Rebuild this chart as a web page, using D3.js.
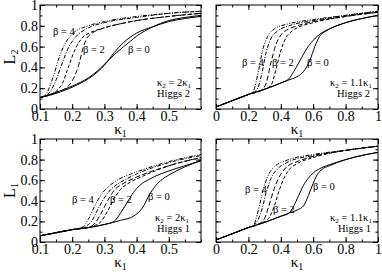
<!DOCTYPE html>
<html>
<head>
<meta charset="utf-8">
<script src="https://cdn.jsdelivr.net/npm/d3@7"></script>
<style>
  body { margin: 0; background: #fff; }
  svg { display: block; }
</style>
</head>
<body>
<div id="chart"></div>
<script>
// global constants
const W = 382, H = 274;
const SERIF = '"Liberation Serif", "Times New Roman", Times, "DejaVu Serif", serif';
const FONT_TICK = 14;
const FONT_NOTE = 10.5;

// x domains per column
const X_LEFT = [0.1, 0.6];
const X_RIGHT = [0, 1];
const X_TICKS_LEFT = [0.1, 0.2, 0.3, 0.4, 0.5];
const X_TICKS_RIGHT = [0, 0.2, 0.4, 0.6, 0.8, 1];
const Y_TICKS = [0, 0.2, 0.4, 0.6, 0.8, 1];

// curves: [kappa_1, L]
// top-left: Higgs 2, kappa_2 = 2 kappa_1
const tlB0a = [[0.1,0.11],[0.15,0.15],[0.2,0.21],[0.25,0.29],[0.28,0.36],[0.3,0.42],[0.33,0.54],[0.36,0.64],[0.38,0.69],[0.4,0.73],[0.45,0.79],[0.5,0.84],[0.55,0.87],[0.6,0.89]];
const tlB0b = [[0.1,0.11],[0.15,0.16],[0.2,0.22],[0.25,0.3],[0.28,0.37],[0.3,0.43],[0.33,0.52],[0.36,0.6],[0.38,0.65],[0.4,0.7],[0.45,0.79],[0.5,0.85],[0.55,0.88],[0.6,0.9]];
const tlB2a = [[0.1,0.11],[0.15,0.16],[0.18,0.2],[0.2,0.27],[0.22,0.42],[0.235,0.6],[0.25,0.7],[0.3,0.78],[0.35,0.82],[0.4,0.85],[0.5,0.89],[0.6,0.92]];
const tlB2b = [[0.1,0.11],[0.15,0.17],[0.17,0.25],[0.19,0.42],[0.21,0.58],[0.23,0.68],[0.26,0.74],[0.3,0.78],[0.4,0.85],[0.5,0.89],[0.6,0.92]];
const tlB4a = [[0.1,0.11],[0.12,0.15],[0.14,0.3],[0.16,0.5],[0.18,0.64],[0.2,0.72],[0.25,0.8],[0.3,0.84],[0.4,0.89],[0.5,0.92],[0.6,0.94]];
const tlB4b = [[0.1,0.11],[0.13,0.16],[0.15,0.28],[0.17,0.45],[0.19,0.6],[0.21,0.69],[0.25,0.78],[0.3,0.83],[0.4,0.88],[0.5,0.92],[0.6,0.94]];

// top-right: Higgs 2, kappa_2 = 1.1 kappa_1
const trB0a = [[0,0.02],[0.1,0.08],[0.2,0.14],[0.3,0.19],[0.4,0.25],[0.45,0.29],[0.48,0.36],[0.52,0.47],[0.56,0.58],[0.6,0.66],[0.65,0.73],[0.7,0.77],[0.8,0.83],[0.9,0.87],[1,0.9]];
const trB0b = [[0,0.02],[0.1,0.08],[0.2,0.14],[0.3,0.19],[0.4,0.25],[0.45,0.28],[0.5,0.31],[0.54,0.36],[0.58,0.47],[0.61,0.6],[0.64,0.7],[0.68,0.75],[0.8,0.83],[0.9,0.87],[1,0.9]];
const trB2a = [[0,0.02],[0.1,0.08],[0.2,0.14],[0.28,0.18],[0.31,0.25],[0.34,0.45],[0.37,0.62],[0.4,0.71],[0.45,0.77],[0.5,0.8],[0.6,0.84],[0.8,0.89],[1,0.93]];
const trB2b = [[0,0.02],[0.1,0.08],[0.2,0.14],[0.3,0.19],[0.34,0.23],[0.37,0.38],[0.4,0.56],[0.43,0.68],[0.47,0.75],[0.5,0.78],[0.6,0.83],[0.8,0.89],[1,0.93]];
const trB4a = [[0,0.02],[0.1,0.08],[0.2,0.14],[0.23,0.17],[0.26,0.35],[0.29,0.58],[0.32,0.7],[0.36,0.77],[0.45,0.82],[0.6,0.86],[0.8,0.9],[1,0.94]];
const trB4b = [[0,0.02],[0.1,0.08],[0.2,0.14],[0.25,0.18],[0.28,0.32],[0.31,0.55],[0.34,0.68],[0.38,0.75],[0.45,0.8],[0.6,0.85],[0.8,0.9],[1,0.94]];

// bottom-left: Higgs 1, kappa_2 = 2 kappa_1
const blB0a = [[0.1,0.06],[0.15,0.09],[0.2,0.12],[0.25,0.14],[0.3,0.17],[0.33,0.2],[0.35,0.28],[0.37,0.38],[0.39,0.48],[0.41,0.55],[0.44,0.61],[0.5,0.69],[0.55,0.74],[0.6,0.79]];
const blB0b = [[0.1,0.06],[0.15,0.09],[0.2,0.12],[0.25,0.14],[0.3,0.17],[0.35,0.21],[0.39,0.25],[0.42,0.34],[0.44,0.46],[0.46,0.55],[0.48,0.61],[0.5,0.65],[0.55,0.73],[0.6,0.79]];
const blB2a = [[0.1,0.06],[0.2,0.12],[0.25,0.14],[0.27,0.18],[0.29,0.28],[0.31,0.4],[0.33,0.5],[0.36,0.57],[0.4,0.63],[0.5,0.74],[0.6,0.82]];
const blB2b = [[0.1,0.06],[0.2,0.12],[0.26,0.15],[0.29,0.2],[0.31,0.3],[0.33,0.42],[0.35,0.51],[0.38,0.58],[0.42,0.64],[0.5,0.74],[0.6,0.82]];
const blB4a = [[0.1,0.06],[0.2,0.12],[0.23,0.14],[0.25,0.22],[0.27,0.35],[0.29,0.46],[0.31,0.53],[0.34,0.6],[0.4,0.68],[0.5,0.78],[0.6,0.85]];
const blB4b = [[0.1,0.06],[0.2,0.12],[0.24,0.15],[0.26,0.2],[0.28,0.32],[0.3,0.43],[0.32,0.51],[0.35,0.58],[0.4,0.66],[0.5,0.77],[0.6,0.84]];

// bottom-right: Higgs 1, kappa_2 = 1.1 kappa_1
const brB0a = [[0,0.02],[0.1,0.08],[0.2,0.14],[0.3,0.19],[0.4,0.25],[0.45,0.28],[0.48,0.35],[0.51,0.45],[0.54,0.55],[0.57,0.62],[0.6,0.67],[0.65,0.72],[0.7,0.75],[0.8,0.8],[0.9,0.84],[1,0.87]];
const brB0b = [[0,0.02],[0.1,0.08],[0.2,0.14],[0.3,0.19],[0.4,0.25],[0.45,0.28],[0.5,0.31],[0.54,0.35],[0.57,0.45],[0.6,0.57],[0.62,0.64],[0.65,0.7],[0.7,0.74],[0.8,0.8],[0.9,0.84],[1,0.87]];
const brB2a = [[0,0.02],[0.1,0.08],[0.2,0.14],[0.26,0.17],[0.3,0.23],[0.33,0.37],[0.36,0.52],[0.39,0.63],[0.43,0.72],[0.5,0.78],[0.6,0.83],[0.8,0.89],[1,0.93]];
const brB2b = [[0,0.02],[0.1,0.08],[0.2,0.14],[0.27,0.18],[0.32,0.22],[0.36,0.35],[0.39,0.5],[0.42,0.62],[0.45,0.7],[0.5,0.76],[0.6,0.82],[0.8,0.89],[1,0.93]];
const brB4a = [[0,0.02],[0.1,0.08],[0.2,0.14],[0.23,0.16],[0.26,0.3],[0.29,0.5],[0.32,0.64],[0.36,0.73],[0.45,0.8],[0.6,0.85],[0.8,0.89],[1,0.93]];
const brB4b = [[0,0.02],[0.1,0.08],[0.2,0.14],[0.24,0.17],[0.28,0.3],[0.31,0.48],[0.34,0.62],[0.38,0.71],[0.45,0.78],[0.6,0.84],[0.8,0.89],[1,0.93]];

// line styles (beta = 0 solid, beta = 2 dashed, beta = 4 dash-dot)
const DASH = {
  b0a: null, b0b: null,
  b2a: "5,2.5", b2b: "3.5,2",
  b4a: "4,1.5,1,1.5,1,1.5", b4b: "4,1.5,1,1.5",
};

const panels = [
  { x0: 40, x1: 201, y0: 5, y1: 109, dom: X_LEFT, xt: X_TICKS_LEFT, xMinor: 0.05, yLabels: true, yTitle: "2",
    curves: { b0a: tlB0a, b0b: tlB0b, b2a: tlB2a, b2b: tlB2b, b4a: tlB4a, b4b: tlB4b },
    notes: [[53, 35, "β = 4"], [83, 53, "β = 2"], [128, 53, "β = 0"]],
    k2: [157, 86, "2"], higgs: [157, 97, "Higgs 2"] },
  { x0: 216, x1: 378, y0: 5, y1: 109, dom: X_RIGHT, xt: X_TICKS_RIGHT, xMinor: 0.1, yLabels: false,
    curves: { b0a: trB0a, b0b: trB0b, b2a: trB2a, b2b: trB2b, b4a: trB4a, b4b: trB4b },
    notes: [[242, 66, "β = 4"], [272, 66, "β = 2"], [307, 66, "β = 0"]],
    k2: [330, 86, "1.1"], higgs: [337, 97, "Higgs 2"] },
  { x0: 40, x1: 201, y0: 139, y1: 242, dom: X_LEFT, xt: X_TICKS_LEFT, xMinor: 0.05, yLabels: true, yTitle: "1",
    curves: { b0a: blB0a, b0b: blB0b, b2a: blB2a, b2b: blB2b, b4a: blB4a, b4b: blB4b },
    notes: [[72, 203, "β = 4"], [110, 203, "β = 2"], [148, 200, "β = 0"]],
    k2: [155, 221, "2"], higgs: [157, 232, "Higgs 1"] },
  { x0: 216, x1: 378, y0: 139, y1: 242, dom: X_RIGHT, xt: X_TICKS_RIGHT, xMinor: 0.1, yLabels: false,
    curves: { b0a: brB0a, b0b: brB0b, b2a: brB2a, b2b: brB2b, b4a: brB4a, b4b: brB4b },
    notes: [[245, 193, "β = 4"], [273, 213, "β = 2"], [313, 190, "β = 0"]],
    k2: [330, 221, "1.1"], higgs: [338, 232, "Higgs 1"] },
];

const svg = d3.select("#chart").append("svg")
  .attr("width", W).attr("height", H)
  .style("font-family", SERIF);

function minorTicks(dom, step) {
  return d3.range(dom[0], dom[1] + 1e-9, step).map((v) => +v.toFixed(3));
}

panels.forEach((p) => {
  const x = d3.scaleLinear().domain(p.dom).range([p.x0, p.x1]);
  const y = d3.scaleLinear().domain([0, 1]).range([p.y1, p.y0]);
  const g = svg.append("g");
  const fmt = (d) => String(d);

  // minor ticks
  const xm = minorTicks(p.dom, p.xMinor);
  const ym = minorTicks([0, 1], 0.1);
  g.append("g").attr("transform", `translate(0,${p.y1})`)
    .call(d3.axisBottom(x).tickValues(xm).tickSize(-2.5).tickFormat(""));
  g.append("g").attr("transform", `translate(0,${p.y0})`)
    .call(d3.axisTop(x).tickValues(xm).tickSize(-2.5).tickFormat(""));
  g.append("g").attr("transform", `translate(${p.x0},0)`)
    .call(d3.axisLeft(y).tickValues(ym).tickSize(-2.5).tickFormat(""));
  g.append("g").attr("transform", `translate(${p.x1},0)`)
    .call(d3.axisRight(y).tickValues(ym).tickSize(-2.5).tickFormat(""));

  // major ticks
  g.append("g").attr("transform", `translate(0,${p.y1})`)
    .call(d3.axisBottom(x).tickValues(p.xt).tickSize(-5).tickPadding(2).tickFormat(fmt));
  g.append("g").attr("transform", `translate(0,${p.y0})`)
    .call(d3.axisTop(x).tickValues(p.xt).tickSize(-5).tickFormat(""));
  g.append("g").attr("transform", `translate(${p.x0},0)`)
    .call(d3.axisLeft(y).tickValues(Y_TICKS).tickSize(-5).tickPadding(2)
      .tickFormat(p.yLabels ? fmt : ""));
  g.append("g").attr("transform", `translate(${p.x1},0)`)
    .call(d3.axisRight(y).tickValues(Y_TICKS).tickSize(-5).tickFormat(""));

  g.selectAll(".domain").remove();
  g.selectAll("g").attr("font-family", null);
  g.selectAll("line").attr("stroke", "#000").attr("stroke-width", 1);
  g.selectAll(".tick text").attr("font-size", FONT_TICK).attr("fill", "#000");

  // frame
  g.append("rect").attr("x", p.x0).attr("y", p.y0)
    .attr("width", p.x1 - p.x0).attr("height", p.y1 - p.y0)
    .attr("fill", "none").attr("stroke", "#000").attr("stroke-width", 1);

  // curves
  const line = d3.line().x((d) => x(d[0])).y((d) => y(d[1])).curve(d3.curveMonotoneX);
  const clipId = "clip" + p.x0 + "_" + p.y0;
  g.append("clipPath").attr("id", clipId).append("rect")
    .attr("x", p.x0).attr("y", p.y0).attr("width", p.x1 - p.x0).attr("height", p.y1 - p.y0);
  Object.keys(p.curves).forEach((k) => {
    g.append("path").datum(p.curves[k])
      .attr("clip-path", `url(#${clipId})`)
      .attr("fill", "none").attr("stroke", "#000").attr("stroke-width", 1)
      .attr("stroke-dasharray", DASH[k])
      .attr("d", line);
  });

  // beta labels
  p.notes.forEach(([tx, ty, s]) => {
    g.append("text").attr("x", tx).attr("y", ty).attr("font-size", FONT_NOTE).text(s);
  });

  // kappa_2 relation
  const t = g.append("text").attr("x", p.k2[0]).attr("y", p.k2[1]).attr("font-size", FONT_NOTE);
  t.append("tspan").text("κ");
  t.append("tspan").attr("font-size", 7).attr("dy", 2).text("2");
  t.append("tspan").attr("dy", -2).text(" = " + p.k2[2] + "κ");
  t.append("tspan").attr("font-size", 7).attr("dy", 2).text("1");
  g.append("text").attr("x", p.higgs[0]).attr("y", p.higgs[1]).attr("font-size", FONT_NOTE).text(p.higgs[2]);

  // x title
  const xt = g.append("text").attr("x", (p.x0 + p.x1) / 2).attr("y", p.y1 + 25)
    .attr("text-anchor", "middle").attr("font-size", 15);
  xt.append("tspan").text("κ");
  xt.append("tspan").attr("font-size", 10).attr("dy", 3).text("1");

  // y title
  if (p.yTitle) {
    const ytt = g.append("text")
      .attr("transform", `translate(15,${(p.y0 + p.y1) / 2}) rotate(-90)`)
      .attr("text-anchor", "middle").attr("font-size", 16);
    ytt.append("tspan").text("L");
    ytt.append("tspan").attr("font-size", 10).attr("dy", 3).text(p.yTitle);
  }
});
</script>
</body>
</html>
